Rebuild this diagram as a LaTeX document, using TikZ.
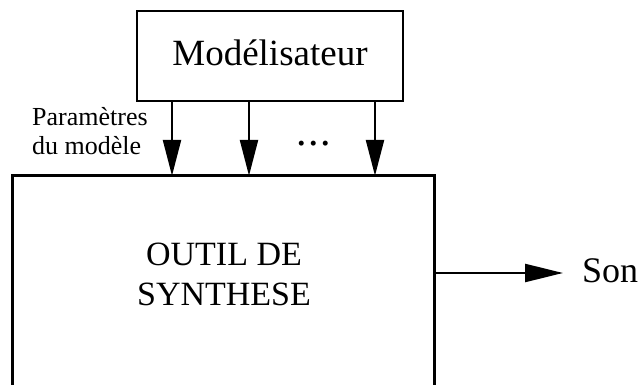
\documentclass[tikz,border=0pt]{standalone}
\usepackage{fontspec}
\setmainfont{Liberation Serif}
\usetikzlibrary{arrows.meta}
\begin{document}
\begin{tikzpicture}[x=1pt,y=1pt,
  boxline/.style={draw, line width=2.8pt},
  arr/.style={line width=2.4pt, -{Triangle[length=36pt,width=18pt]}},
  sonarr/.style={line width=2.4pt, -{Triangle[length=38pt,width=18pt]}}]
\useasboundingbox (0,0) rectangle (641,-385);
% top box
\node (mod) [boxline, minimum width=266pt, minimum height=90pt, inner sep=0pt,
  text depth=6pt, font=\fontsize{37}{40}\selectfont] at (270,-56) {Modélisateur};
% big box (open at bottom)
\node (tool) [minimum width=421pt, minimum height=209pt, inner sep=0pt] at (223.5,-280.5) {};
\draw[line width=2.8pt] (tool.south west) -- (tool.north west) -- (tool.north east) -- (tool.south east);
\node (tooltext) [align=center, inner sep=0pt, font=\fontsize{34}{40}\selectfont] at (224,-274) {OUTIL DE\\SYNTHESE};
% parameter label
\node (param) [anchor=west, align=left, inner sep=0pt, font=\fontsize{26}{29}\selectfont] at (32,-131.5) {Paramètres\\du modèle};
% dots
\node (dots) [anchor=base, inner sep=0pt, font=\fontsize{42}{42}\selectfont] at (314,-146) {.\hspace{1.5pt}.\hspace{1.5pt}.};
% parameter arrows
\draw[arr] (mod.south -| 172,0) -- (tool.north -| 172,0);
\draw[arr] (mod.south -| 249,0) -- (tool.north -| 249,0);
\draw[arr] (mod.south -| 375,0) -- (tool.north -| 375,0);
% output
\node (son) [anchor=base west, inner sep=0pt, font=\fontsize{36}{40}\selectfont] at (582,-283) {Son};
\coordinate (sonin) at (563,-273);
\draw[sonarr] (tool.east |- sonin) -- (sonin);
\end{tikzpicture}
\end{document}
